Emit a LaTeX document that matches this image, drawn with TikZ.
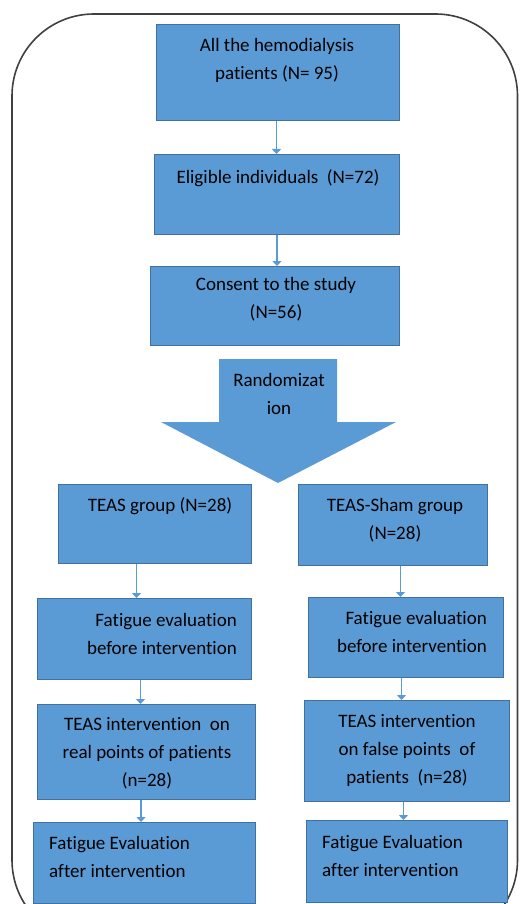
\documentclass[tikz,border=0pt]{standalone}
\usepackage{fontspec}
\setmainfont{Carlito}[Ligatures=NoCommon]
\usetikzlibrary{arrows.meta}
\definecolor{boxblue}{HTML}{5B9BD5}
\definecolor{boxline}{HTML}{41719C}

\begin{document}
\begin{tikzpicture}[x=1pt,y=-1pt,
		blk/.style={draw=boxline,fill=boxblue,line width=1pt,anchor=north west,inner sep=0pt},
		txt/.style={font=\fontsize{19}{28}\selectfont,inner sep=0pt,align=center},
		flow/.style={draw=boxblue,line width=1.5pt,-{Triangle[width=9pt,length=5pt]}}]
	\useasboundingbox (0,0) rectangle (519,904);
	\clip (0,0) rectangle (519,904);
	\fill[color=white] (0,0) rectangle (519,904);
	\draw[color=black!75,line width=1.6pt,rounded corners=82pt] (12,14) rectangle (517.5,942);

	\node[blk,minimum width=243,minimum height=96] (all) at (156,24) {};
	\node[blk,minimum width=245,minimum height=80] (elig) at (154,154) {};
	\node[blk,minimum width=249,minimum height=79] (cons) at (150,266) {};
	\fill[color=boxblue] (219,359) -- (337,359) -- (337,422) -- (396,422) -- (278,483) -- (161,422) -- (219,422) -- cycle;
	\node[blk,minimum width=193,minimum height=79] (tg) at (58,484) {};
	\node[blk,minimum width=189,minimum height=81] (ts) at (298,484) {};
	\node[blk,minimum width=214,minimum height=81] (fl) at (37,598) {};
	\node[blk,minimum width=195,minimum height=80] (fr) at (308,597) {};
	\node[blk,minimum width=218,minimum height=95] (il) at (37,704) {};
	\node[blk,minimum width=205,minimum height=101] (ir) at (304,700) {};
	\node[blk,minimum width=222,minimum height=81] (al) at (33,822) {};
	\node[blk,minimum width=201,minimum height=82] (ar) at (306,820) {};

	\node[txt] (allt) at (277,60) {All the hemodialysis\\patients (N= 95)};
	\node[txt] (eligt) at (278,178) {Eligible individuals\ \ (N=72)};
	\node[txt] (const) at (276,299.5) {Consent to\ the study\\(N=56)};
	\node[txt] (randt) at (279,394) {Randomizat\\ion};
	\node[txt] (tgt) at (160,506) {TEAS group (N=28)};
	\node[txt] (tst) at (395,520) {TEAS-Sham group\\(N=28)};
	\node[txt,align=right,anchor=east] (flt) at (237,633.5) {Fatigue evaluation\\before intervention};
	\node[txt,align=right,anchor=east] (frt) at (487,631.5) {Fatigue evaluation\\before intervention};
	\node[txt] (ilt) at (147,753) {TEAS intervention\ \ on\\real points\ of patients\\(n=28)};
	\node[txt] (irt) at (407,750) {TEAS intervention\\on false points\ \ of\\patients\ \ (n=28)};
	\node[txt,align=left,anchor=west] (alt) at (49,857) {Fatigue Evaluation\\after intervention};
	\node[txt,align=left,anchor=west] (art) at (322,855.5) {Fatigue Evaluation\\after intervention};

	\draw[flow] ([xshift=-1.5pt]all.south) -- ([xshift=-1.5pt]all.south |- elig.north);
	\draw[flow] (elig.south) -- (elig.south |- cons.north);
	\draw[flow] ([xshift=-18.5pt]tg.south) -- ([xshift=-18.5pt]tg.south |- fl.north);
	\draw[flow] ([xshift=-4pt]fl.south) -- ([xshift=-4pt]fl.south |- il.north);
	\draw[flow] ([xshift=-5.5pt]il.south) -- ([xshift=-5.5pt]il.south |- al.north);
	\draw[flow] ([xshift=7.5pt]ts.south) -- ([xshift=7.5pt]ts.south |- fr.north);
	\draw[flow] ([xshift=-4.5pt]fr.south) -- ([xshift=-4.5pt]fr.south |- ir.north);
	\draw[flow] ([xshift=-3.5pt]ir.south) -- ([xshift=-3.5pt]ir.south |- ar.north);
\end{tikzpicture}
\end{document}
